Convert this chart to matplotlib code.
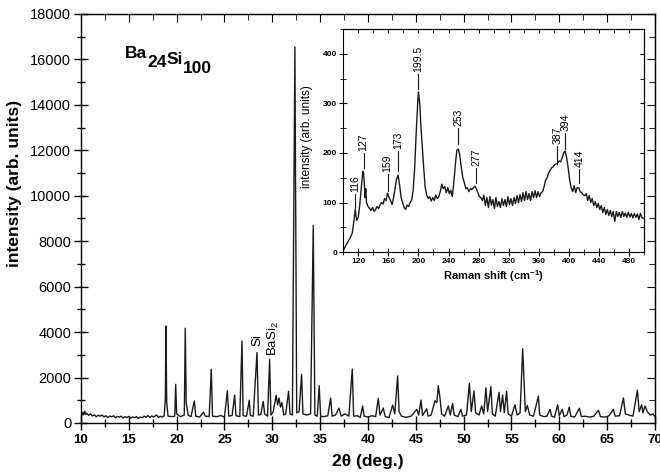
# %%
# XRD pattern of Ba24Si100 with Raman spectrum inset
import matplotlib
matplotlib.use('Agg')
import matplotlib.pyplot as plt

plt.rcParams['font.family'] = ['Liberation Sans', 'DejaVu Sans']
plt.rcParams['mathtext.fontset'] = 'custom'
plt.rcParams['mathtext.rm'] = 'Liberation Sans'
plt.rcParams['mathtext.bf'] = 'Liberation Sans:bold'

# %%
# XRD trace
xrd_2theta = [
    10.0, 10.1, 10.2, 10.3, 10.4, 10.5, 10.6, 10.8, 11.0, 11.2, 11.4, 11.6, 11.8, 12.0,
    12.2, 12.4, 12.6, 12.8, 13.0, 13.2, 13.4, 13.6, 13.8, 14.0, 14.2, 14.4, 14.6, 14.8,
    15.0, 15.2, 15.4, 15.6, 15.8, 16.0, 16.2, 16.4, 16.6, 16.8, 17.0, 17.2, 17.4, 17.6,
    17.9, 18.1, 18.3, 18.5, 18.7, 18.82, 18.88,
    18.96, 19.1, 19.5, 19.8, 19.9, 20.0, 20.4, 20.8, 20.9, 21.0, 21.2, 21.5, 21.85, 22.0,
    22.4, 22.8, 23.0, 23.4, 23.62, 23.75, 24.2, 24.6, 25.0, 25.3, 25.45, 25.8, 26.06, 26.2,
    26.6, 26.83, 26.95, 27.3, 27.59, 27.7, 28.0, 28.4, 28.55, 28.8, 29.05, 29.2, 29.5, 29.72,
    29.85, 30.1, 30.4, 30.55, 30.7, 30.85, 31.0, 31.2, 31.4, 31.7, 31.85, 32.1, 32.36, 32.55,
    32.8, 33.06, 33.2, 33.6, 34.0, 34.28, 34.45, 34.7, 34.9, 35.05, 35.4, 35.8, 36.1, 36.25,
    36.6, 36.97, 37.2, 37.6, 38.0, 38.36, 38.5, 38.9, 39.2, 39.44, 39.6, 40.0, 40.4, 40.8,
    41.08, 41.25, 41.6, 41.8, 42.2, 42.58, 42.8, 43.1, 43.25, 43.5, 44.0, 44.5, 45.09, 45.3,
    45.54, 45.7, 46.13, 46.3, 46.6, 47.0, 47.2, 47.35, 47.5, 47.7, 48.0, 48.4, 48.6, 48.85,
    49.0, 49.4, 49.7, 49.9, 50.3, 50.6, 50.8, 51.08, 51.25, 51.6, 51.88, 52.1, 52.33, 52.5,
    52.85, 53.0, 53.3, 53.7, 53.85, 54.07, 54.25, 54.49, 54.65, 55.0, 55.36, 55.6, 55.9, 56.17,
    56.3, 56.45, 56.66, 56.9, 57.3, 57.81, 57.95, 58.4, 58.7, 59.03, 59.2, 59.5, 59.83, 60.0,
    60.3, 60.5, 60.8, 61.04, 61.2, 61.6, 62.1, 62.3, 62.7, 63.2, 63.6, 64.09, 64.3, 64.8,
    65.2, 65.65, 65.85, 66.3, 66.7, 66.9, 67.3, 67.7, 68.16, 68.35, 68.6, 68.75, 68.95, 69.2,
    69.5, 69.8, 70.0]
xrd_counts = [
    420, 330, 470, 360, 520, 380, 430, 340, 400, 310, 360, 280, 340, 300,
    350, 270, 320, 240, 310, 270, 320, 230, 290, 260, 300, 220, 280, 240,
    290, 210, 270, 230, 280, 200, 260, 230, 300, 250, 330, 240, 310, 260,
    360, 240, 300, 260, 320, 1100, 4270,
    900, 300, 280, 300, 1700, 400, 280, 350, 4170, 900, 350, 280, 970, 300,
    260, 480, 300, 280, 2370, 300, 280, 330, 260, 1420, 300, 330, 1230, 320,
    280, 3610, 320, 300, 1000, 330, 300, 3100, 350, 380, 950, 400, 300, 2800,
    350, 500, 1220, 800, 1100, 700, 900, 350, 400, 1400, 400, 350, 16550, 450,
    500, 2150, 400, 350, 400, 8700, 350, 300, 1640, 300, 280, 320, 1100, 300,
    350, 650, 300, 400, 300, 2370, 300, 320, 250, 750, 300, 260, 320, 280,
    1090, 350, 660, 280, 240, 790, 400, 2070, 500, 300, 250, 300, 600, 350,
    1010, 330, 620, 300, 350, 980, 900, 1640, 1200, 400, 300, 750, 350, 860,
    350, 280, 600, 300, 350, 1750, 500, 1410, 450, 350, 750, 400, 1550, 500,
    1600, 400, 300, 1350, 500, 1230, 450, 1400, 400, 300, 800, 350, 450, 3270,
    2000, 500, 770, 350, 300, 1180, 350, 280, 300, 600, 300, 260, 800, 320,
    600, 280, 350, 700, 300, 260, 650, 280, 300, 260, 300, 560, 280, 260,
    320, 600, 300, 320, 1100, 400, 350, 300, 1450, 500, 800, 450, 750, 500,
    350, 400, 280]

# %%
# Raman spectrum (inset)
raman_shift = [
    100, 103, 106, 109, 112, 114, 116, 117, 118, 120, 122, 124, 126, 127, 128, 129, 130, 131,
    133, 135, 137, 139, 141, 143, 145, 147, 149, 151, 153, 155, 157, 159, 161, 163, 165, 167,
    169, 171, 173, 175, 177, 179, 181, 183, 185, 187, 189, 191, 193, 195, 197, 199, 200, 201,
    202, 203, 205, 207, 209, 211, 213, 215, 217, 219, 221, 223, 225, 227, 229, 231, 233, 235,
    237, 239, 241, 243, 245, 247, 249, 251, 253, 255, 257, 259, 261, 263, 265, 267, 269, 271,
    273, 275, 277, 279, 281, 283, 285, 287, 289, 291, 293, 295, 297, 299, 301, 303, 305, 307,
    309, 311, 313, 315, 317, 319, 321, 323, 325, 327, 329, 331, 333, 335, 337, 339, 341, 343,
    345, 347, 349, 351, 353, 355, 357, 359, 361, 363, 365, 367, 369, 371, 373, 375, 377, 379,
    381, 383, 385, 387, 389, 391, 393, 395, 397, 399, 401, 403, 405, 407, 409, 411, 413, 415,
    417, 419, 421, 423, 425, 427, 429, 431, 433, 435, 437, 439, 441, 443, 445, 447, 449, 451,
    453, 455, 457, 459, 461, 463, 465, 467, 469, 471, 473, 475, 477, 479, 481, 483, 485, 487,
    489, 491, 493, 495, 497, 499]
raman_int = [
    3, 12, 20, 28, 38, 60, 86, 72, 64, 70, 95, 130, 163, 160, 140, 110, 128, 100,
    92, 88, 84, 90, 82, 86, 92, 88, 95, 100, 97, 108, 104, 119, 110, 104, 96, 110,
    130, 148, 155, 135, 110, 100, 90, 86, 95, 92, 100, 105, 125, 170, 240, 300, 323, 310,
    295, 260, 215, 170, 130, 115, 108, 112, 103, 110, 104, 115, 108, 112, 122, 137, 128, 132,
    120, 130, 118, 125, 112, 140, 175, 205, 208, 195, 170, 150, 140, 128, 130, 122, 128, 126,
    130, 133, 128, 120, 112, 110, 104, 115, 94, 110, 90, 112, 95, 106, 88, 110, 92, 102,
    90, 108, 94, 106, 92, 112, 96, 108, 94, 110, 98, 114, 100, 116, 102, 120, 104, 122,
    106, 118, 104, 122, 110, 124, 110, 122, 112, 120, 122, 132, 145, 150, 160, 165, 170, 172,
    176, 178, 180, 184, 182, 190, 200, 204, 190, 170, 145, 130, 122, 134, 120, 130, 130, 122,
    120, 116, 114, 118, 104, 114, 100, 108, 94, 102, 90, 98, 86, 94, 80, 90, 76, 86,
    74, 84, 72, 82, 62, 82, 72, 80, 70, 82, 72, 79, 70, 80, 71, 78, 69, 78,
    70, 77, 66, 78, 70, 68]

# %%
# Raman peak labels: label position, tick bottom, tick top
peak_labels = ['116', '127', '159', '173', '199.5', '253', '277', '387', '394', '414']
peak_pos = [116, 127, 159, 173, 199.5, 253, 277, 384.5, 395, 414]
peak_lo = [90, 170, 124, 164, 328, 218, 140, 178, 208, 140]
peak_hi = [118, 200, 158, 204, 360, 250, 170, 214, 240, 168]

# XRD phase labels
phase_labels = ['Si', r'BaSi$_2$']
phase_pos = [28.45, 30.15]
phase_y = [3400, 2950]

# %%
fig = plt.figure(figsize=(6.6, 4.74), dpi=100)
ax = fig.add_axes([0.1227, 0.1076, 0.8697, 0.8629])
lc = '#1a1a1a'
ax.plot(xrd_2theta, xrd_counts, color=lc, lw=1.0)
ax.set_xlim(10, 70)
ax.set_ylim(0, 18000)
ax.set_xticks(range(10, 71, 5))
ax.set_xticks([x + 2.5 for x in range(10, 70, 5)], minor=True)
ax.set_yticks(range(0, 18001, 2000))
ax.set_yticks(range(1000, 18000, 2000), minor=True)
ax.tick_params(which='both', direction='inout', top=False, right=False)
ax.tick_params(which='major', length=10, width=1)
ax.tick_params(which='minor', length=6, width=1)
ax.tick_params(axis='y', labelsize=10.5, pad=2)
ax.tick_params(axis='x', labelsize=9.5, pad=3)
for lab in ax.get_xticklabels():
    lab.set_fontweight('bold')
# inward ticks on top and right
ax2 = ax.secondary_xaxis('top')
ax2.set_xticks(range(10, 71, 5))
ax2.set_xticks([x + 2.5 for x in range(10, 70, 5)], minor=True)
ax2.tick_params(which='both', direction='in', labeltop=False)
ax2.tick_params(which='major', length=6)
ax2.tick_params(which='minor', length=4)
ay2 = ax.secondary_yaxis('right')
ay2.set_yticks(range(0, 18001, 2000))
ay2.set_yticks(range(1000, 18000, 2000), minor=True)
ay2.tick_params(which='both', direction='in', labelright=False)
ay2.tick_params(which='major', length=6)
ay2.tick_params(which='minor', length=4)
for s in ax.spines.values():
    s.set_linewidth(1)

ax.set_xlabel('2θ (deg.)', fontsize=12.5, fontweight='bold', labelpad=6)
ax.set_ylabel('intensity (arb. units)', fontsize=12.5, fontweight='bold', labelpad=4)
ax.yaxis.set_label_coords(-0.102, 0.585)

for t, x, y in zip(phase_labels, phase_pos, phase_y):
    ax.text(x, y, t, rotation=90, ha='center', va='bottom', fontsize=9.5)

# sample name with full-size subscripts
t1 = ax.text(0.0767, 0.892, 'Ba', transform=ax.transAxes, fontsize=12.5, fontweight='bold')
t2 = ax.annotate('24', xy=(1, 0), xycoords=t1, xytext=(0, -4), textcoords='offset points',
                 fontsize=12.5, fontweight='bold')
t3 = ax.annotate('Si', xy=(1, 0), xycoords=t2, xytext=(0, 4), textcoords='offset points',
                 fontsize=12.5, fontweight='bold')
ax.annotate('100', xy=(1, 0), xycoords=t3, xytext=(0, -4), textcoords='offset points',
            fontsize=12.5, fontweight='bold')

# %%
# Inset: Raman
ins = fig.add_axes([0.520, 0.468, 0.456, 0.471])
ins.plot(raman_shift, raman_int, color=lc, lw=1.0)
ins.set_xlim(100, 500)
ins.set_ylim(0, 450)
ins.set_xticks(range(120, 481, 40))
ins.set_xticks(range(100, 501, 20), minor=True)
ins.set_yticks(range(0, 401, 100))
ins.set_yticks(range(50, 451, 100), minor=True)
ins.tick_params(which='both', direction='inout', labelsize=6, pad=1.5)
ins.tick_params(which='major', length=6)
ins.tick_params(which='minor', length=4)
for lab in ins.get_xticklabels() + ins.get_yticklabels():
    lab.set_fontweight('bold')
ix2 = ins.secondary_xaxis('top')
ix2.set_xticks(range(120, 481, 40))
ix2.set_xticks(range(100, 501, 20), minor=True)
ix2.tick_params(which='both', direction='in', labeltop=False, length=3)
iy2 = ins.secondary_yaxis('right')
iy2.set_yticks(range(0, 401, 100))
iy2.set_yticks(range(50, 451, 100), minor=True)
iy2.tick_params(which='both', direction='in', labelright=False, length=3)
ins.set_xlabel(r'Raman shift (cm$^{\mathregular{-1}}$)', fontsize=8, fontweight='bold', labelpad=2)
ins.set_ylabel('intensity (arb. units)', fontsize=8.5, labelpad=8)
ins.yaxis.set_label_coords(-0.1, 0.52)

for t, x, lo, hi in zip(peak_labels, peak_pos, peak_lo, peak_hi):
    ins.plot([x, x], [lo, hi], color=lc, lw=0.8)
    ins.text(x, hi + 4, t, rotation=90, ha='center', va='bottom', fontsize=7.5)

fig.savefig('out.png', dpi=100)
